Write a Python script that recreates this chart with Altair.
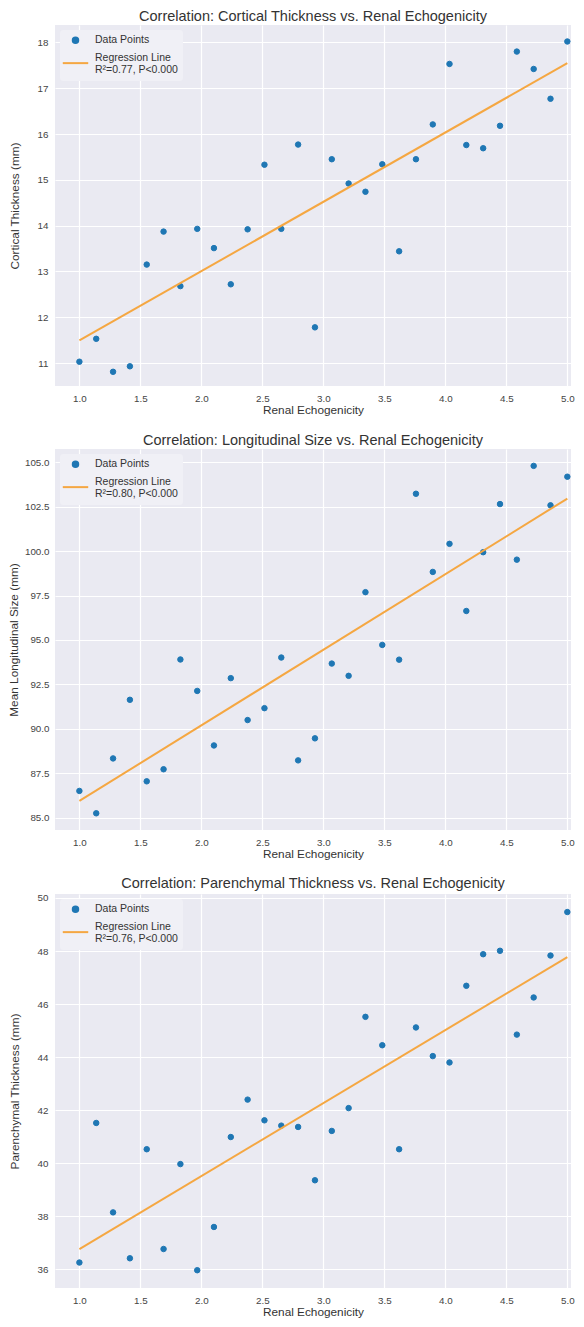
import altair as alt
import pandas as pd

# Renal echogenicity (x) shared by all three panels
x_vals = [1.0, 1.138, 1.276, 1.414, 1.552, 1.690, 1.828, 1.966, 2.103, 2.241,
          2.379, 2.517, 2.655, 2.793, 2.931, 3.069, 3.207, 3.345, 3.483, 3.621,
          3.759, 3.897, 4.034, 4.172, 4.310, 4.448, 4.586, 4.724, 4.862, 5.0]

cortical = [11.03, 11.53, 10.81, 10.93, 13.15, 13.87, 12.68, 13.93, 13.51, 12.72,
            13.92, 15.33, 13.93, 15.77, 11.78, 15.45, 14.92, 14.74, 15.34, 13.44,
            15.45, 16.21, 17.53, 15.76, 15.69, 16.18, 17.80, 17.42, 16.77, 18.02]

longitudinal = [86.50, 85.24, 88.33, 91.63, 87.04, 87.72, 93.90, 92.13, 89.06, 92.85,
                90.49, 91.16, 94.01, 88.22, 89.46, 93.67, 92.98, 97.69, 94.72, 93.89,
                103.23, 98.83, 100.41, 96.63, 99.94, 102.65, 99.52, 104.80, 102.58, 104.19]

parenchymal = [36.26, 41.52, 38.15, 36.42, 40.53, 36.77, 39.97, 35.97, 37.60, 40.99,
               42.40, 41.62, 41.42, 41.37, 39.36, 41.22, 42.08, 45.52, 44.45, 40.53,
               45.12, 44.04, 43.80, 46.69, 47.88, 48.01, 44.85, 46.25, 47.83, 49.47]

x_ticks = [1.0, 1.5, 2.0, 2.5, 3.0, 3.5, 4.0, 4.5, 5.0]
series_names = ["Data Points", "Regression Line"]

BLUE = "#1f77b4"
ORANGE = "#F5A742"
FONT = "Liberation Sans"
# legend line symbol: long and drawn slightly below centre, between the two label lines
LINE_SYMBOL = "M -1.4 0.62 L 1.4 0.62"


def panel(yvals, title, ytitle, r2text, ydomain, yticks, yfmt, width, height, ylabpad, ytitlepad):
    df = pd.DataFrame({"x": x_vals, "y": yvals, "series": [series_names[0]] * len(x_vals)})
    base = alt.Chart(df)
    xenc = alt.X("x:Q", scale=alt.Scale(domain=[0.8, 5.03], nice=False, zero=False),
                 axis=alt.Axis(values=x_ticks, format=".1f", title="Renal Echogenicity",
                               labelPadding=7, titlePadding=2))
    yenc = alt.Y("y:Q", scale=alt.Scale(domain=ydomain, nice=False, zero=False),
                 axis=alt.Axis(values=yticks, format=yfmt, title=ytitle,
                               labelPadding=ylabpad, titlePadding=ytitlepad))
    label_expr = ("datum.label == 'Regression Line' ? ['Regression Line', '"
                  + r2text + "'] : datum.label")
    legend = alt.Legend(title=None, orient="top-left", labelExpr=label_expr,
                        offset=5, padding=5, fillColor="#F0F0F6", cornerRadius=3,
                        rowPadding=0, labelOffset=9, labelFontSize=10.5, labelFont=FONT,
                        labelColor="#333333", labelLimit=300, symbolStrokeWidth=2)
    points = base.mark_point(filled=True, opacity=1, strokeWidth=1).encode(
        x=xenc, y=yenc,
        color=alt.Color("series:N", scale=alt.Scale(domain=series_names, range=[BLUE, ORANGE]), legend=legend),
        stroke=alt.Stroke("series:N", scale=alt.Scale(domain=series_names, range=[BLUE, ORANGE]), legend=legend),
        shape=alt.Shape("series:N", scale=alt.Scale(domain=series_names, range=["circle", LINE_SYMBOL]), legend=legend),
        size=alt.Size("series:N", scale=alt.Scale(domain=series_names, range=[30, 330]), legend=legend),
    )
    line = base.transform_regression("x", "y").mark_line(color=ORANGE, strokeWidth=2).encode(x=xenc, y=yenc)
    return alt.layer(points, line).properties(
        width=width, height=height,
        title=alt.TitleParams(title, fontSize=14.5, font=FONT, fontWeight="normal",
                              color="#333333", offset=1),
    )


p1 = panel(cortical, "Correlation: Cortical Thickness vs. Renal Echogenicity",
           "Cortical Thickness (mm)", "R²=0.77, P<0.000",
           [10.5, 18.38], [11, 12, 13, 14, 15, 16, 17, 18], "d", 516, 361, 7, 17)
p2 = panel(longitudinal, "Correlation: Longitudinal Size vs. Renal Echogenicity",
           "Mean Longitudinal Size (mm)", "R²=0.80, P<0.000",
           [84.3, 105.75], [85.0, 87.5, 90.0, 92.5, 95.0, 97.5, 100.0, 102.5, 105.0], ".1f",
           516, 381, 6, 5)
p3 = panel(parenchymal, "Correlation: Parenchymal Thickness vs. Renal Echogenicity",
           "Parenchymal Thickness (mm)", "R²=0.76, P<0.000",
           [35.3, 50.15], [36, 38, 40, 42, 44, 46, 48, 50], "d", 516, 394, 7, 17)

chart = alt.vconcat(p1, p2, p3, spacing=15).properties(
    padding=0, background="white"
).resolve_scale(
    color="independent", stroke="independent", shape="independent", size="independent"
).resolve_legend(
    color="independent", stroke="independent", shape="independent", size="independent"
).configure_view(
    fill="#EAEAF2", stroke=None
).configure_axis(
    domain=False, ticks=False, grid=True, gridColor="white", gridWidth=1.2,
    labelFont=FONT, labelFontSize=9.8, labelColor="#444444",
    titleFont=FONT, titleFontSize=11.8, titleColor="#333333", titleFontWeight="normal",
)

chart.save("out.html", embed_options={"renderer": "svg", "actions": False})
